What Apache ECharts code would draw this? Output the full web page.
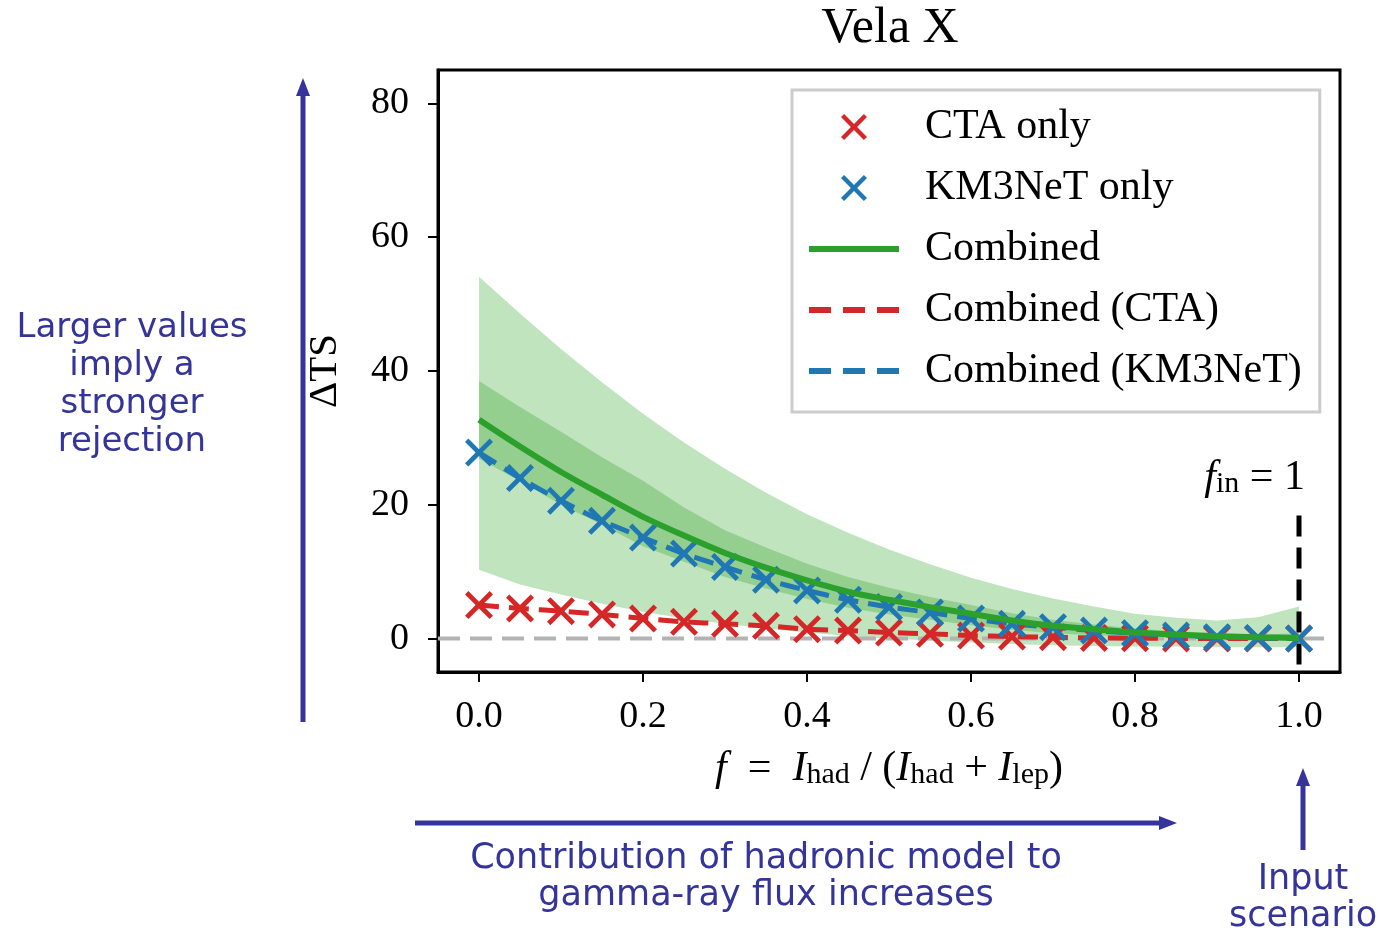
<!DOCTYPE html>
<html>
<head>
<meta charset="utf-8">
<script src="https://cdn.jsdelivr.net/npm/echarts@6/dist/echarts.min.js"></script>
<style>
  html, body { margin: 0; padding: 0; background: #fff; }
  #chart { width: 1378px; height: 931px; }
</style>
</head>
<body>
<div id="chart"></div>
<script>
// f = I_had / (I_had + I_lep), scan points
const fVals = [0, 0.05, 0.1, 0.15, 0.2, 0.25, 0.3, 0.35, 0.4, 0.45, 0.5,
               0.55, 0.6, 0.65, 0.7, 0.75, 0.8, 0.85, 0.9, 0.95, 1.0];

// ΔTS per experiment
const ctaOnly  = [5.0, 4.5, 4.1, 3.6, 3.0, 2.5, 2.2, 1.9, 1.4, 1.2, 0.9,
                  0.7, 0.45, 0.3, 0.2, 0.1, 0.05, 0.02, 0.0, 0.0, 0.0];
const km3Only  = [27.8, 24.0, 20.6, 17.6, 15.1, 12.7, 10.7, 8.8, 7.2, 5.8, 4.7,
                  3.9, 3.0, 2.2, 1.7, 1.2, 0.8, 0.45, 0.2, 0.1, 0.0];
const combined = [32.7, 28.7, 24.9, 21.5, 18.2, 15.4, 12.8, 10.6, 8.7, 7.0, 5.8,
                  4.7, 3.7, 2.7, 1.9, 1.4, 0.9, 0.6, 0.35, 0.2, 0.1];
const combinedCta = [5.0, 4.5, 4.1, 3.6, 3.0, 2.5, 2.2, 1.9, 1.4, 1.2, 0.9,
                     0.7, 0.45, 0.3, 0.2, 0.1, 0.05, 0.02, 0.0, 0.0, 0.0];
const combinedKm3 = [27.8, 24.0, 20.6, 17.6, 15.1, 12.7, 10.7, 8.8, 7.2, 5.8, 4.7,
                     3.9, 3.0, 2.2, 1.7, 1.2, 0.8, 0.45, 0.2, 0.1, 0.0];

// uncertainty bands of the combined result
const band68Lo = [26.9, 23.5, 20.0, 17.0, 13.8, 11.5, 9.2, 7.5, 5.9, 4.6, 3.6,
                  2.8, 2.0, 1.3, 0.8, 0.5, 0.3, 0.1, 0.0, -0.1, -0.2];
const band68Hi = [38.5, 34.6, 30.9, 27.1, 23.6, 19.6, 16.2, 13.6, 11.2, 9.2, 7.6,
                  6.2, 5.0, 3.8, 2.8, 2.1, 1.5, 1.1, 0.8, 0.6, 0.8];
const band95Lo = [10.3, 8.1, 6.6, 5.2, 4.0, 3.0, 2.2, 1.5, 0.9, 0.4, 0.0,
                  -0.3, -0.6, -0.8, -1.0, -1.1, -1.2, -1.2, -1.3, -1.3, -1.3];
const band95Hi = [54.1, 48.6, 43.3, 38.3, 33.6, 29.3, 25.4, 21.8, 18.6, 15.8, 13.3,
                  11.1, 9.1, 7.4, 6.0, 4.8, 3.7, 3.1, 2.7, 3.2, 4.8];

const zeroLine = [[-0.05, 0], [1.04, 0]];
const inputLine = [[1.0, 18.4], [1.0, -5]];

const xTicks = [0, 0.2, 0.4, 0.6, 0.8, 1.0];
const yTicks = [0, 20, 40, 60, 80];

const serif = 'Liberation Serif';
const hand = '"DejaVu Sans"';
const ink = '#34349a';
const xMark = 'path://M12,0 L50,38 L88,0 L100,12 L62,50 L100,88 L88,100 L50,62 L12,100 L0,88 L38,50 L0,12 Z';

function bandRender(lo, hi, color) {
    return function (params, api) {
        if (params.dataIndex !== 0) return null;
        const pts = [];
        for (let i = 0; i < fVals.length; i++) pts.push(api.coord([fVals[i], hi[i]]));
        for (let i = fVals.length - 1; i >= 0; i--) pts.push(api.coord([fVals[i], lo[i]]));
        return { type: 'polygon', shape: { points: pts }, style: { fill: color }, silent: true };
    };
}

const pairs = arr => fVals.map((f, i) => [f, arr[i]]);

const subRich = {
    i: { fontFamily: serif, fontStyle: 'italic', fontSize: 42, lineHeight: 42 },
    n: { fontFamily: serif, fontSize: 42, lineHeight: 42 },
    s: { fontFamily: serif, fontSize: 30, lineHeight: 20, verticalAlign: 'bottom' }
};

let chart = echarts.init(document.getElementById('chart'));

chart.setOption({
    animation: false,
    grid: {
        left: 438, right: 38, top: 70, bottom: 259,
        show: true, borderColor: '#000', borderWidth: 3
    },
    legend: {
        orient: 'vertical',
        left: 792, top: 90,
        data: [
            { name: 'CTA only' },
            { name: 'KM3NeT only' },
            { name: 'Combined', itemStyle: { opacity: 0 }, lineStyle: { width: 6, color: '#2ca02c' } },
            { name: 'Combined (CTA)', itemStyle: { opacity: 0 }, lineStyle: { width: 6, color: '#d62728', type: [22, 12] } },
            { name: 'Combined (KM3NeT)', itemStyle: { opacity: 0 }, lineStyle: { width: 6, color: '#1f77b4', type: [22, 12] } }
        ],
        itemWidth: 90, itemHeight: 26, itemGap: 19,
        padding: [16, 18, 20, 14],
        backgroundColor: '#fff',
        borderColor: '#cccccc', borderWidth: 3,
        textStyle: { fontFamily: serif, fontSize: 42, color: '#000', lineHeight: 40, padding: [0, 0, 0, 21] }
    },
    xAxis: {
        type: 'value', min: -0.05, max: 1.05,
        splitLine: { show: false },
        axisLine: { show: true, onZero: false, lineStyle: { color: '#000', width: 3 } },
        axisTick: { customValues: xTicks, length: 10, lineStyle: { color: '#000', width: 2 } },
        axisLabel: {
            customValues: xTicks, formatter: v => v.toFixed(1),
            fontFamily: serif, fontSize: 38, color: '#000', margin: 26
        },
        name: '{i|f}{n|  =  }{i|I}{s|had}{n| / (}{i|I}{s|had}{n| + }{i|I}{s|lep}{n|)}',
        nameLocation: 'middle', nameGap: 76,
        nameTextStyle: { fontFamily: serif, fontSize: 42, color: '#000', lineHeight: 42, rich: subRich }
    },
    yAxis: {
        type: 'value', min: -5, max: 85,
        splitLine: { show: false },
        axisLine: { show: true, onZero: false, lineStyle: { color: '#000', width: 3 } },
        axisTick: { customValues: yTicks, length: 10, lineStyle: { color: '#000', width: 2 } },
        axisLabel: { customValues: yTicks, fontFamily: serif, fontSize: 38, color: '#000', margin: 29 },
        name: 'ΔTS', nameLocation: 'middle', nameRotate: 90, nameGap: 92,
        nameTextStyle: { fontFamily: serif, fontSize: 41, color: '#000' }
    },
    series: [
        {
            type: 'custom', z: 1, silent: true,
            data: fVals.map((f, i) => [f, band95Lo[i], band95Hi[i]]),
            encode: { x: 0, y: [1, 2] },
            renderItem: bandRender(band95Lo, band95Hi, '#bfe4be')
        },
        {
            type: 'custom', z: 1, silent: true,
            data: fVals.map((f, i) => [f, band68Lo[i], band68Hi[i]]),
            encode: { x: 0, y: [1, 2] },
            renderItem: bandRender(band68Lo, band68Hi, '#94cf8f')
        },
        {
            type: 'line', z: 2, symbol: 'none', silent: true,
            data: zeroLine,
            lineStyle: { color: '#b3b3b3', width: 4, type: [22, 10] }
        },
        {
            type: 'line', z: 2, symbol: 'none', silent: true,
            data: inputLine,
            lineStyle: { color: '#000', width: 5, type: [21, 11] }
        },
        {
            name: 'Combined (CTA)', type: 'line', z: 3, symbol: 'none', smooth: 0.3,
            data: pairs(combinedCta),
            itemStyle: { color: '#d62728' },
            lineStyle: { color: '#d62728', width: 5, type: [20, 10] }
        },
        {
            name: 'Combined (KM3NeT)', type: 'line', z: 3, symbol: 'none', smooth: 0.3,
            data: pairs(combinedKm3),
            itemStyle: { color: '#1f77b4' },
            lineStyle: { color: '#1f77b4', width: 5, type: [20, 10] }
        },
        {
            name: 'CTA only', type: 'scatter', z: 4,
            symbol: xMark, symbolSize: 28, symbolKeepAspect: true,
            data: pairs(ctaOnly),
            itemStyle: { color: '#d62728', opacity: 1 }
        },
        {
            name: 'KM3NeT only', type: 'scatter', z: 4,
            symbol: xMark, symbolSize: 28, symbolKeepAspect: true,
            data: pairs(km3Only),
            itemStyle: { color: '#1f77b4', opacity: 1 }
        },
        {
            name: 'Combined', type: 'line', z: 5, symbol: 'none', smooth: 0.3,
            data: pairs(combined),
            itemStyle: { color: '#2ca02c' },
            lineStyle: { color: '#2ca02c', width: 6 }
        }
    ],
    graphic: [
        {
            type: 'text', x: 890, y: 29,
            style: { text: 'Vela X', fill: '#000', font: '50px "Liberation Serif"', textAlign: 'center', textVerticalAlign: 'middle' }
        },
        {
            type: 'text', x: 1305, y: 478,
            style: {
                text: '{i|f}{s|in}{n| = 1}', fill: '#000', textAlign: 'right', textVerticalAlign: 'middle',
                font: '42px "Liberation Serif"', lineHeight: 42, rich: subRich
            }
        },
        // annotation arrows
        { type: 'line', shape: { x1: 303, y1: 722, x2: 303, y2: 94 }, style: { stroke: ink, lineWidth: 5 } },
        { type: 'polygon', shape: { points: [[303, 78], [296, 96], [310, 96]] }, style: { fill: ink } },
        { type: 'line', shape: { x1: 415, y1: 823, x2: 1160, y2: 823 }, style: { stroke: ink, lineWidth: 5 } },
        { type: 'polygon', shape: { points: [[1177, 823], [1159, 816], [1159, 830]] }, style: { fill: ink } },
        { type: 'line', shape: { x1: 1303, y1: 850, x2: 1303, y2: 784 }, style: { stroke: ink, lineWidth: 5 } },
        { type: 'polygon', shape: { points: [[1303, 768], [1296, 786], [1310, 786]] }, style: { fill: ink } },
        // annotation texts
        {
            type: 'text', x: 132, y: 385,
            style: { text: 'Larger values\nimply a\nstronger\nrejection', fill: ink, font: '34px ' + hand, lineHeight: 38, textAlign: 'center', textVerticalAlign: 'middle' }
        },
        {
            type: 'text', x: 766, y: 877,
            style: { text: 'Contribution of hadronic model to\ngamma-ray flux increases', fill: ink, font: '35px ' + hand, lineHeight: 37, textAlign: 'center', textVerticalAlign: 'middle' }
        },
        {
            type: 'text', x: 1303, y: 898,
            style: { text: 'Input\nscenario', fill: ink, font: '35px ' + hand, lineHeight: 37, textAlign: 'center', textVerticalAlign: 'middle' }
        }
    ]
});
</script>
</body>
</html>
